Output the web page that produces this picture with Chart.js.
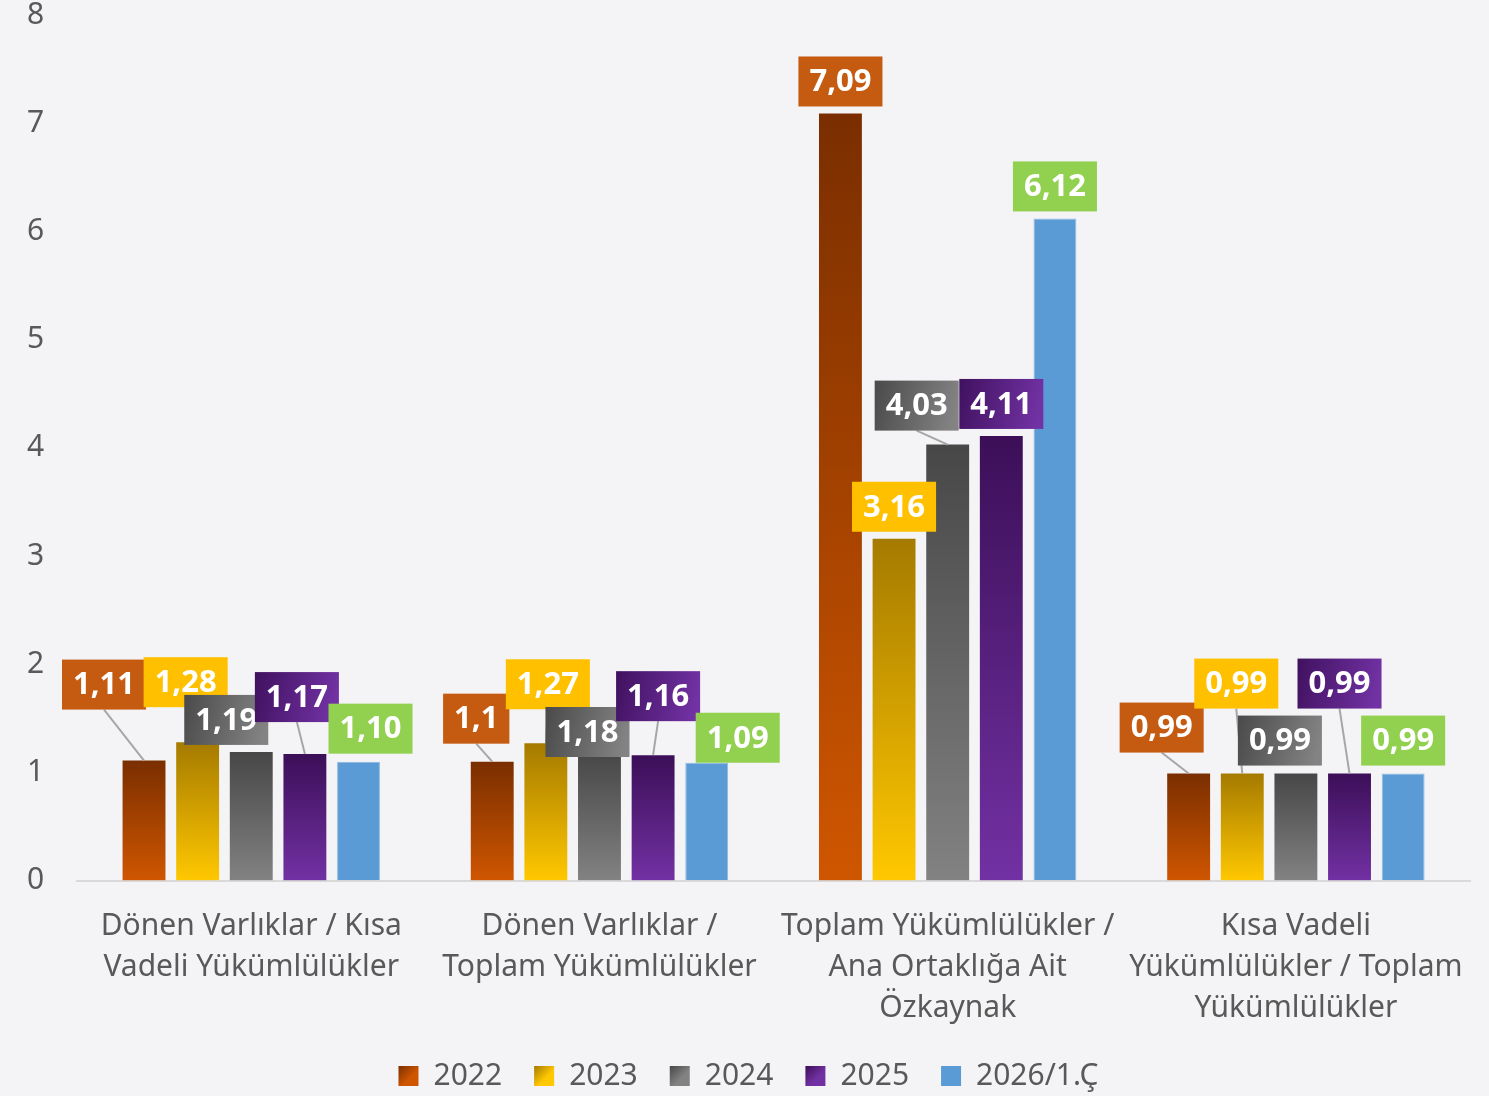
<!DOCTYPE html>
<html>
<head>
<meta charset="utf-8">
<script src="https://cdn.jsdelivr.net/npm/chart.js@4.4.0/dist/chart.umd.min.js"></script>
<style>
  html, body { margin: 0; padding: 0; background: #f4f4f6; }
  #wrap { width: 1489px; height: 1096px; }
</style>
</head>
<body>
<div id="wrap"><canvas id="myChart" width="1489" height="1096"></canvas></div>
<script>
const categories = [
  ["Dönen Varlıklar / Kısa", "Vadeli Yükümlülükler"],
  ["Dönen Varlıklar /", "Toplam Yükümlülükler"],
  ["Toplam Yükümlülükler /", "Ana Ortaklığa Ait", "Özkaynak"],
  ["Kısa Vadeli", "Yükümlülükler / Toplam", "Yükümlülükler"],
];
const seriesNames = ["2022", "2023", "2024", "2025", "2026/1.Ç"];

const values2022 = [1.11, 1.10, 7.09, 0.99];
const values2023 = [1.28, 1.27, 3.16, 0.99];
const values2024 = [1.19, 1.18, 4.03, 0.99];
const values2025 = [1.17, 1.16, 4.11, 0.99];
const values2026 = [1.10, 1.09, 6.12, 0.99];

const texts2022 = ["1,11", "1,1", "7,09", "0,99"];
const texts2023 = ["1,28", "1,27", "3,16", "0,99"];
const texts2024 = ["1,19", "1,18", "4,03", "0,99"];
const texts2025 = ["1,17", "1,16", "4,11", "0,99"];
const texts2026 = ["1,10", "1,09", "6,12", "0,99"];

const yTicks = [0, 1, 2, 3, 4, 5, 6, 7, 8];

// styles
const FONT = '"Noto Sans", "Open Sans", sans-serif';
const INVISIBLE = "rgba(0,0,0,0)";
const barStops = [
  ["#7a2e00", "#cf5600"],
  ["#a57a00", "#ffc800"],
  ["#474747", "#828282"],
  ["#3c0f58", "#7231a3"],
  ["#5b9bd5", "#5b9bd5"],
];
const labelStops = [
  ["#c55a11", "#c55a11"],
  ["#ffc000", "#ffc000"],
  ["#4a4a4a", "#838383"],
  ["#40115f", "#7232a4"],
  ["#92d050", "#92d050"],
];
// data label box centre, px from the top-centre of its bar
const labelOffsets = [
  [[-40, -76], [-16, -43], [0, -32], [-27, -46]],
  [[-12, -60], [2, -59], [0, -32], [-6, -90]],
  [[-25, -32], [-12, -21], [-31, -39], [-16, -33]],
  [[-8, -57], [5, -59], [0, -32], [-10, -90]],
  [[12, -33], [31, -25], [0, -32], [0, -33]],
];

const allValues = [values2022, values2023, values2024, values2025, values2026];
const allTexts = [texts2022, texts2023, texts2024, texts2025, texts2026];

function barFill(stops) {
  return function (context) {
    const chart = context.chart;
    if (context.type !== "data" || !chart.scales.y) return stops[1];
    const y = chart.scales.y;
    const top = y.getPixelForValue(context.raw);
    const bottom = y.getPixelForValue(0);
    if (!isFinite(top) || !isFinite(bottom) || top === bottom) return stops[1];
    const g = chart.ctx.createLinearGradient(0, top, 0, bottom);
    g.addColorStop(0, stops[0]);
    g.addColorStop(1, stops[1]);
    return g;
  };
}

const labelPlugin = {
  id: "barLabels",
  beforeLayout(chart) {
    const lg = chart.legend;
    if (lg && !lg._trimmed) {
      const orig = lg.fit.bind(lg);
      lg.fit = function () {
        orig();
        this.height -= 5;
      };
      lg._trimmed = true;
    }
  },
  afterDatasetsDraw(chart) {
    const ctx = chart.ctx;
    ctx.save();
    ctx.font = "bold 31px " + FONT;
    ctx.textAlign = "center";
    ctx.textBaseline = "middle";
    chart.data.datasets.forEach((ds, i) => {
      const meta = chart.getDatasetMeta(i);
      meta.data.forEach((bar, j) => {
        const off = labelOffsets[i][j];
        const cx = bar.x + off[0];
        const cy = bar.y + off[1];
        const text = allTexts[i][j];
        const w = ctx.measureText(text).width + 22;
        const h = 50;
        const left = cx - w / 2;
        const top = cy - h / 2;
        if (bar.y - (top + h) > 10) {
          ctx.strokeStyle = "#a6a6a6";
          ctx.lineWidth = 2;
          ctx.beginPath();
          ctx.moveTo(cx, top + h);
          ctx.lineTo(bar.x, bar.y);
          ctx.stroke();
        }
        const g = ctx.createLinearGradient(left, top, left + w, top + h * 0.4);
        g.addColorStop(0, labelStops[i][0]);
        g.addColorStop(1, labelStops[i][1]);
        ctx.fillStyle = g;
        ctx.fillRect(left, top, w, h);
        ctx.fillStyle = "#ffffff";
        ctx.fillText(text, cx, cy + 1);
      });
    });
    ctx.restore();
  },
  afterDraw(chart) {
    // gradient legend boxes
    const ctx = chart.ctx;
    const boxes = chart.legend.legendHitBoxes || [];
    ctx.save();
    boxes.forEach((hb, i) => {
      const x = hb.left;
      const y = hb.top + (hb.height - 20) / 2;
      const g = ctx.createLinearGradient(x, y, x + 20, y + 20);
      g.addColorStop(0, barStops[i][0]);
      g.addColorStop(0.6, barStops[i][1]);
      g.addColorStop(1, barStops[i][1]);
      ctx.fillStyle = g;
      ctx.fillRect(x, y, 20, 20);
    });
    ctx.restore();
  },
};

const data = {
  labels: categories,
  datasets: seriesNames.map((name, i) => ({
    label: name,
    data: allValues[i],
    backgroundColor: barFill(barStops[i]),
    borderWidth: i === 4 ? 1 : 0,
    borderColor: "#8db9e2",
    barPercentage: 0.8,
    categoryPercentage: 0.77,
  })),
};

const ctx = document.getElementById("myChart");
const chart = new Chart(ctx, {
  type: "bar",
  data: data,
  plugins: [labelPlugin],
  options: {
    responsive: false,
    animation: false,
    layout: { padding: { left: 27, right: 19, top: 0, bottom: 0 } },
    plugins: {
      tooltip: { enabled: false },
      legend: {
        position: "bottom",
        labels: {
          boxWidth: 20,
          boxHeight: 20,
          padding: 32,
          color: "#595959",
          font: { size: 30, family: FONT },
          generateLabels(chart) {
            return chart.data.datasets.map((ds, i) => ({
              text: ds.label,
              fillStyle: INVISIBLE,
              strokeStyle: INVISIBLE,
              lineWidth: 0,
              fontColor: "#595959",
              datasetIndex: i,
            }));
          },
        },
      },
    },
    scales: {
      x: {
        // invisible tick marks give the gap under the axis
        grid: { display: true, drawOnChartArea: false, drawTicks: true, tickLength: 25, tickColor: INVISIBLE },
        border: { display: true, color: "#d9d9d9", width: 2 },
        ticks: {
          color: "#595959",
          font: { size: 30, family: FONT, lineHeight: 1.37 },
          padding: 0,
          maxRotation: 0,
          autoSkip: false,
        },
      },
      y: {
        min: 0,
        max: 8,
        afterBuildTicks(axis) {
          axis.ticks = yTicks.map((v) => ({ value: v }));
        },
        grid: { display: true, drawOnChartArea: false, drawTicks: true, tickLength: 33, tickColor: INVISIBLE },
        border: { display: false },
        ticks: {
          color: "#595959",
          font: { size: 30, family: FONT, lineHeight: 1.0 },
          padding: 0,
        },
      },
    },
  },
});
</script>
</body>
</html>
